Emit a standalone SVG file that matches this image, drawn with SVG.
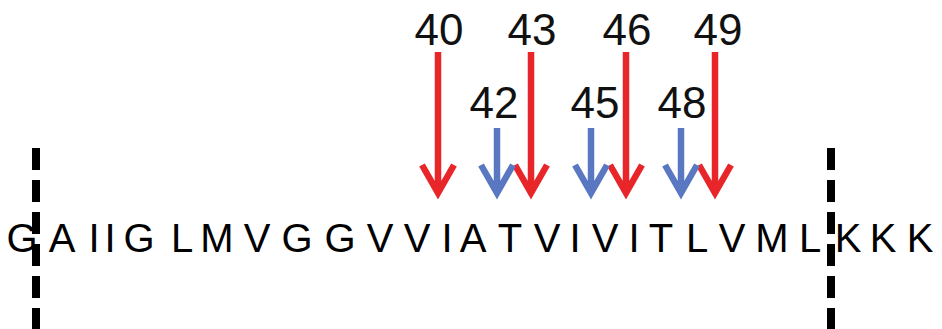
<svg xmlns="http://www.w3.org/2000/svg" width="942" height="329" viewBox="0 0 942 329">
<style>
.seq{font-family:"Liberation Sans",Arial,sans-serif;font-size:40px;fill:#000;text-anchor:middle}
.num{font-family:"Liberation Sans",Arial,sans-serif;font-size:44px;fill:#111;text-anchor:middle}
.dash{stroke:#000;stroke-width:8;stroke-dasharray:22 10;fill:none}
.red{stroke:#e8262a;stroke-width:6.5;fill:none;stroke-linejoin:miter;stroke-miterlimit:10}
.blue{stroke:#5a78c2;stroke-width:6.5;fill:none;stroke-linejoin:miter;stroke-miterlimit:10}
</style>
<rect width="942" height="329" fill="#fff"/>
<g id="sequence">
<text class="seq" x="22 62 94 110 139 182 217 257 297 340 380 417 447 473 510 547 575 605 634 661 697 732 772 810 848 883 920" y="252">GAIIGLMVGGVVIATVIVITLVMLKKK</text>
</g>
<g id="boundaries">
<line class="dash" x1="36" y1="148" x2="36" y2="329"/>
<line class="dash" x1="831" y1="148" x2="831" y2="329"/>
</g>
<g id="labels">
<text class="num" x="439" y="45">40</text>
<text class="num" x="532" y="45">43</text>
<text class="num" x="627" y="45">46</text>
<text class="num" x="718" y="45">49</text>
<text class="num" x="494" y="118">42</text>
<text class="num" x="595" y="118">45</text>
<text class="num" x="682" y="118">48</text>
</g>
<g id="connectors">
<g id="arrow40"><path class="red" d="M438 52V192M422 165L438 193L454 165"/></g>
<g id="arrow43"><path class="red" d="M531 52V192M515 165L531 193L547 165"/></g>
<g id="arrow46"><path class="red" d="M626 52V192M610 165L626 193L642 165"/></g>
<g id="arrow49"><path class="red" d="M715 52V192M699 165L715 193L731 165"/></g>
<g id="arrow42"><path class="blue" d="M497 128V192M481 165L497 193L513 165"/></g>
<g id="arrow45"><path class="blue" d="M591 128V192M575 165L591 193L607 165"/></g>
<g id="arrow48"><path class="blue" d="M681 128V192M665 165L681 193L697 165"/></g>
</g>
</svg>
